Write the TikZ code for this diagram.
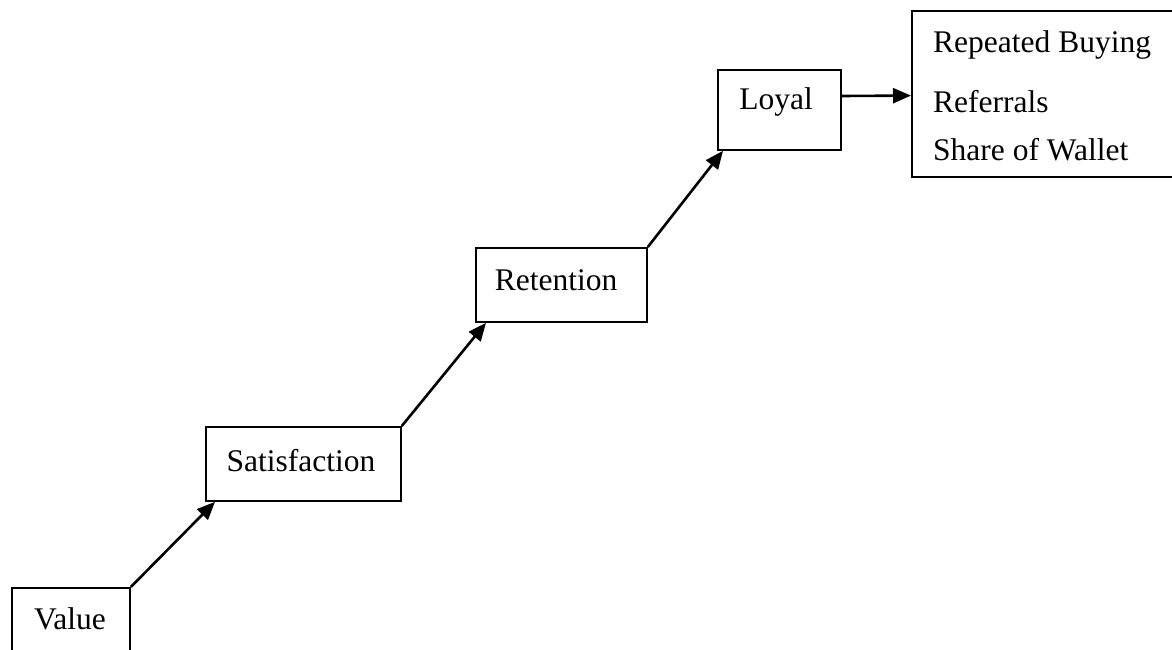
\documentclass[tikz,border=0pt]{standalone}
\usepackage{fontspec}
\setmainfont{Liberation Serif}
\usetikzlibrary{arrows.meta,calc}
\begin{document}
\begin{tikzpicture}[x=1pt,y=-1pt,
  box/.style={draw,line width=1.8pt,inner sep=0pt},
  txt/.style={inner sep=0pt,font=\fontsize{31.5}{37}\selectfont},
  lbl/.style={inner sep=0pt,font=\fontsize{31.5}{37}\selectfont,anchor=base west},
  conn/.style={line width=2.6pt,-{Triangle[length=18pt,width=15pt]}}]
\useasboundingbox (0,0) rectangle (1172,649);
% boxes
\node[box,minimum width=118pt,minimum height=100pt,anchor=north west] (v) at (11,587) {};
\node[txt] (vt) at (70,619) {Value};
\node[box,minimum width=195pt,minimum height=74pt,anchor=north west] (s) at (205,426) {};
\node[txt] (st) at (301,461) {Satisfaction};
\node[box,minimum width=171pt,minimum height=74pt,anchor=north west] (r) at (475,247) {};
\node[txt] (rt) at (556,280) {Retention};
\node[box,minimum width=123pt,minimum height=80pt,anchor=north west] (l) at (717,69) {};
\node[txt] (lt) at (776,102) {Loyal};
\node[box,minimum width=290pt,minimum height=166pt,anchor=north west] (o) at (911,10) {};
\node[lbl] (o1) at (933,52) {Repeated Buying};
\node[lbl] (o2) at (933,112) {Referrals};
\node[lbl] (o3) at (933,160) {Share of Wallet};
% connectors
\draw[conn] (v.north east) -- ($(s.south west)+(10,0)$);
\draw[conn] (s.north east) -- ($(r.south west)+(11,0)$);
\draw[conn] (r.north east) -- ($(l.south west)+(6,0)$);
\draw[conn] ($(l.north east)!0.33!(l.south east)$) -- ($(o.north west)!0.51!(o.south west)$);
\end{tikzpicture}
\end{document}
